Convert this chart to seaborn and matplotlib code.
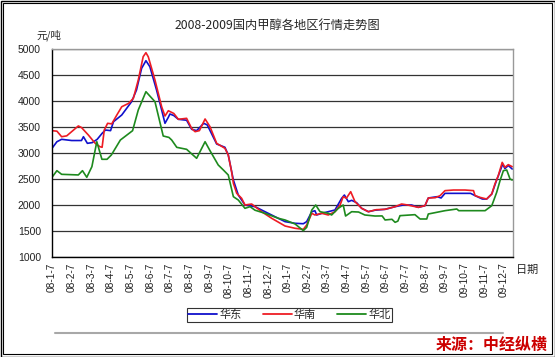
import numpy as np
import pandas as pd
import matplotlib
matplotlib.use('Agg')
import matplotlib.pyplot as plt
from matplotlib.patches import Rectangle
from matplotlib.lines import Line2D
import seaborn as sns

# ── data (x = months since 08-1-7) ──────────────────────────────────────────
tick_labels = ['08-1-7', '08-2-7', '08-3-7', '08-4-7', '08-5-7', '08-6-7',
               '08-7-7', '08-8-7', '08-9-7', '08-10-7', '08-11-7', '08-12-7',
               '09-1-7', '09-2-7', '09-3-7', '09-4-7', '09-5-7', '09-6-7',
               '09-7-7', '09-8-7', '09-9-7', '09-10-7', '09-11-7', '09-12-7']

east_t = [0, 0.25, 0.49, 1.0, 1.5, 1.6, 1.8, 2.05, 2.3, 2.55, 2.72, 2.98, 3.13, 3.55,
          4.05, 4.3, 4.56, 4.78, 4.98, 5.32, 5.58, 5.75, 5.92, 6.0, 6.2, 6.43, 6.85,
          7.11, 7.36, 7.72, 7.9, 8.38, 8.8, 8.97, 9.23, 9.48, 9.82, 10.33, 10.84,
          11.35, 11.86, 12.37, 12.79, 12.96, 13.22, 13.38, 13.47, 13.73, 14.4, 14.74,
          14.88, 15.08, 15.25, 15.5, 15.76, 16.1, 16.44, 16.95, 17.46, 17.88, 18.3,
          18.64, 18.98, 19.15, 19.6, 19.8, 20.0, 20.6, 21.3, 21.53, 21.9, 22.12,
          22.38, 22.6, 22.85, 22.93, 23.05, 23.22, 23.42]
east_v = [3090, 3217, 3263, 3240, 3240, 3313, 3186, 3200, 3263, 3378, 3442, 3430, 3602,
          3731, 3987, 4212, 4628, 4775, 4660, 4212, 3827, 3571, 3686, 3750, 3720, 3648,
          3630, 3455, 3430, 3571, 3540, 3173, 3110, 2962, 2481, 2192, 2000, 1968, 1871,
          1775, 1680, 1648, 1640, 1680, 1871, 1890, 1808, 1840, 1904, 2129, 2192, 2064,
          2090, 2045, 1936, 1871, 1900, 1917, 1968, 2000, 2000, 1955, 1987, 2135, 2160,
          2135, 2224, 2224, 2224, 2180, 2115, 2115, 2212, 2450, 2700, 2788, 2700, 2760,
          2692]

south_t = [0, 0.25, 0.49, 0.75, 1.34, 1.5, 1.85, 2.2, 2.44, 2.55, 2.66, 2.83, 3.04, 3.3,
           3.55, 3.9, 4.14, 4.39, 4.64, 4.78, 4.9, 5.24, 5.58, 5.75, 5.92, 6.2, 6.43,
           6.85, 7.11, 7.28, 7.5, 7.79, 8.04, 8.38, 8.8, 8.97, 9.14, 9.23, 9.40, 9.65,
           9.82, 10.16, 10.67, 11.18, 11.86, 12.37, 12.79, 12.96, 13.22, 13.38, 13.73,
           14.06, 14.40, 14.66, 14.82, 14.98, 15.2, 15.42, 15.76, 16.1, 16.5, 16.95,
           17.46, 17.79, 18.1, 18.64, 18.98, 19.15, 19.5, 19.75, 20.0, 20.43, 21.02,
           21.45, 21.53, 21.78, 22.12, 22.38, 22.54, 22.71, 22.91, 23.05, 23.22, 23.42]
south_v = [3429, 3420, 3313, 3330, 3520, 3490, 3346, 3186, 3121, 3110, 3442, 3571, 3560,
           3731, 3890, 3955, 4051, 4404, 4852, 4929, 4850, 4404, 3890, 3711, 3813, 3760,
           3648, 3667, 3470, 3410, 3430, 3654, 3506, 3186, 3090, 2962, 2640, 2417, 2225,
           2129, 2000, 2019, 1871, 1744, 1596, 1552, 1532, 1615, 1840, 1808, 1840, 1808,
           1871, 2000, 2160, 2130, 2256, 2064, 1936, 1871, 1910, 1917, 1968, 2019, 2000,
           1955, 1987, 2135, 2140, 2180, 2276, 2288, 2288, 2276, 2180, 2147, 2115, 2212,
           2404, 2564, 2820, 2724, 2776, 2737]

north_t = [0, 0.25, 0.49, 1.34, 1.55, 1.77, 2.03, 2.28, 2.54, 2.8, 3.02, 3.48, 4.1, 4.39,
           4.78, 5.24, 5.66, 5.95, 6.09, 6.35, 6.85, 7.36, 7.79, 8.04, 8.46, 8.72, 8.97,
           9.23, 9.48, 9.82, 10.08, 10.33, 10.84, 11.52, 11.86, 12.37, 12.79, 12.96,
           13.22, 13.42, 13.64, 14.06, 14.23, 14.57, 14.82, 14.94, 15.25, 15.6, 15.92,
           16.44, 16.8, 16.95, 17.3, 17.46, 17.6, 17.71, 18.47, 18.73, 19.07, 19.15,
           20.0, 20.6, 20.7, 22.04, 22.38, 22.63, 22.8, 22.97, 23.14, 23.31, 23.42]
north_v = [2533, 2660, 2590, 2578, 2660, 2533, 2737, 3217, 2879, 2879, 2962, 3250, 3429,
           3827, 4179, 3987, 3327, 3300, 3250, 3109, 3071, 2898, 3217, 3045, 2769, 2673,
           2577, 2160, 2096, 1936, 1968, 1900, 1840, 1744, 1712, 1635, 1507, 1570, 1904,
           2000, 1871, 1840, 1808, 1936, 2000, 1788, 1871, 1865, 1808, 1788, 1790, 1712,
           1725, 1667, 1690, 1795, 1814, 1731, 1731, 1827, 1891, 1923, 1891, 1891, 1987,
           2244, 2468, 2660, 2673, 2500, 2480]

regions = ['华东', '华南', '华北']
colors = ['#1010CC', '#EE1C24', '#1E8A1E']

df = pd.concat([
    pd.DataFrame({'t': east_t, 'price': east_v, 'region': '华东'}),
    pd.DataFrame({'t': south_t, 'price': south_v, 'region': '华南'}),
    pd.DataFrame({'t': north_t, 'price': north_v, 'region': '华北'}),
], ignore_index=True)

# ── plot ────────────────────────────────────────────────────────────────────
sns.set_style('white')
plt.rcParams['font.family'] = ['Liberation Sans', 'Noto Sans CJK SC', 'DejaVu Sans']

fig = plt.figure(figsize=(5.55, 3.57), dpi=100)
ax = fig.add_axes([52 / 555, 1 - 257 / 357, 461 / 555, 208 / 357])

sns.lineplot(data=df, x='t', y='price', hue='region', hue_order=regions,
             palette=dict(zip(regions, colors)), ax=ax, linewidth=1.2,
             estimator=None, sort=False, legend=False)

ax.set_xlim(0, 23.46)
ax.set_ylim(1000, 5000)
ax.set_yticks(np.arange(1000, 5001, 500))
ax.set_xticks(np.arange(len(tick_labels)))
ax.set_xticklabels(tick_labels, rotation=90, fontsize=7.3, color='#222222')
ax.tick_params(axis='y', length=0, labelsize=7.5, labelcolor='#222222', pad=8)
ax.tick_params(axis='x', direction='in', length=3, width=0.8, color='#333333', pad=4)
ax.set_xlabel('')
ax.set_ylabel('')
ax.yaxis.grid(True, color='#333333', linewidth=0.9)
ax.set_axisbelow(True)
for side in ['left', 'bottom']:
    ax.spines[side].set_color('black')
    ax.spines[side].set_linewidth(1.0)
for side in ['top', 'right']:
    ax.spines[side].set_color('#999999')
    ax.spines[side].set_linewidth(1.0)

fig.text(0.5, 1 - 25 / 357, '2008-2009国内甲醇各地区行情走势图', ha='center', va='center',
         fontsize=8.8, family=['Noto Sans CJK SC'])
fig.text(36 / 555, 1 - 35 / 357, '元/吨', ha='left', va='center', fontsize=7.5,
         family=['Noto Sans CJK SC'])
fig.text(516 / 555, 1 - 270 / 357, '日期', ha='left', va='center', fontsize=8,
         family=['Noto Sans CJK SC'])

handles = [Line2D([], [], color=c, lw=1.3) for c in colors]
leg = fig.legend(handles, regions, loc='center', ncol=3,
                 bbox_to_anchor=((192 + 387) / 2 / 555, 1 - 315 / 357),
                 frameon=True, fancybox=False, edgecolor='black',
                 handlelength=2.6, columnspacing=1.9, handletextpad=0.2,
                 borderpad=0.15, prop={'family': ['Noto Sans CJK SC'], 'size': 8})
leg.get_frame().set_linewidth(0.8)

fig.add_artist(Line2D([55 / 555, 503 / 555], [1 - 333 / 357] * 2, color='#A8A8A8',
                      lw=1.5, transform=fig.transFigure))
fig.text(548 / 555, 1 - 345 / 357, '来源：中经纵横', ha='right', va='center',
         fontsize=11.5, fontweight='bold', color='#CC0000', family=['Noto Sans CJK SC'])

fig.add_artist(Rectangle((0.5 / 555, 0.5 / 357), 554 / 555, 356 / 357, fill=False,
                         edgecolor='black', lw=1.0, transform=fig.transFigure))
fig.add_artist(Rectangle((3 / 555, 3 / 357), 549 / 555, 351 / 357, fill=False,
                         edgecolor='black', lw=0.8, transform=fig.transFigure))

fig.savefig('out.png', dpi=100)
